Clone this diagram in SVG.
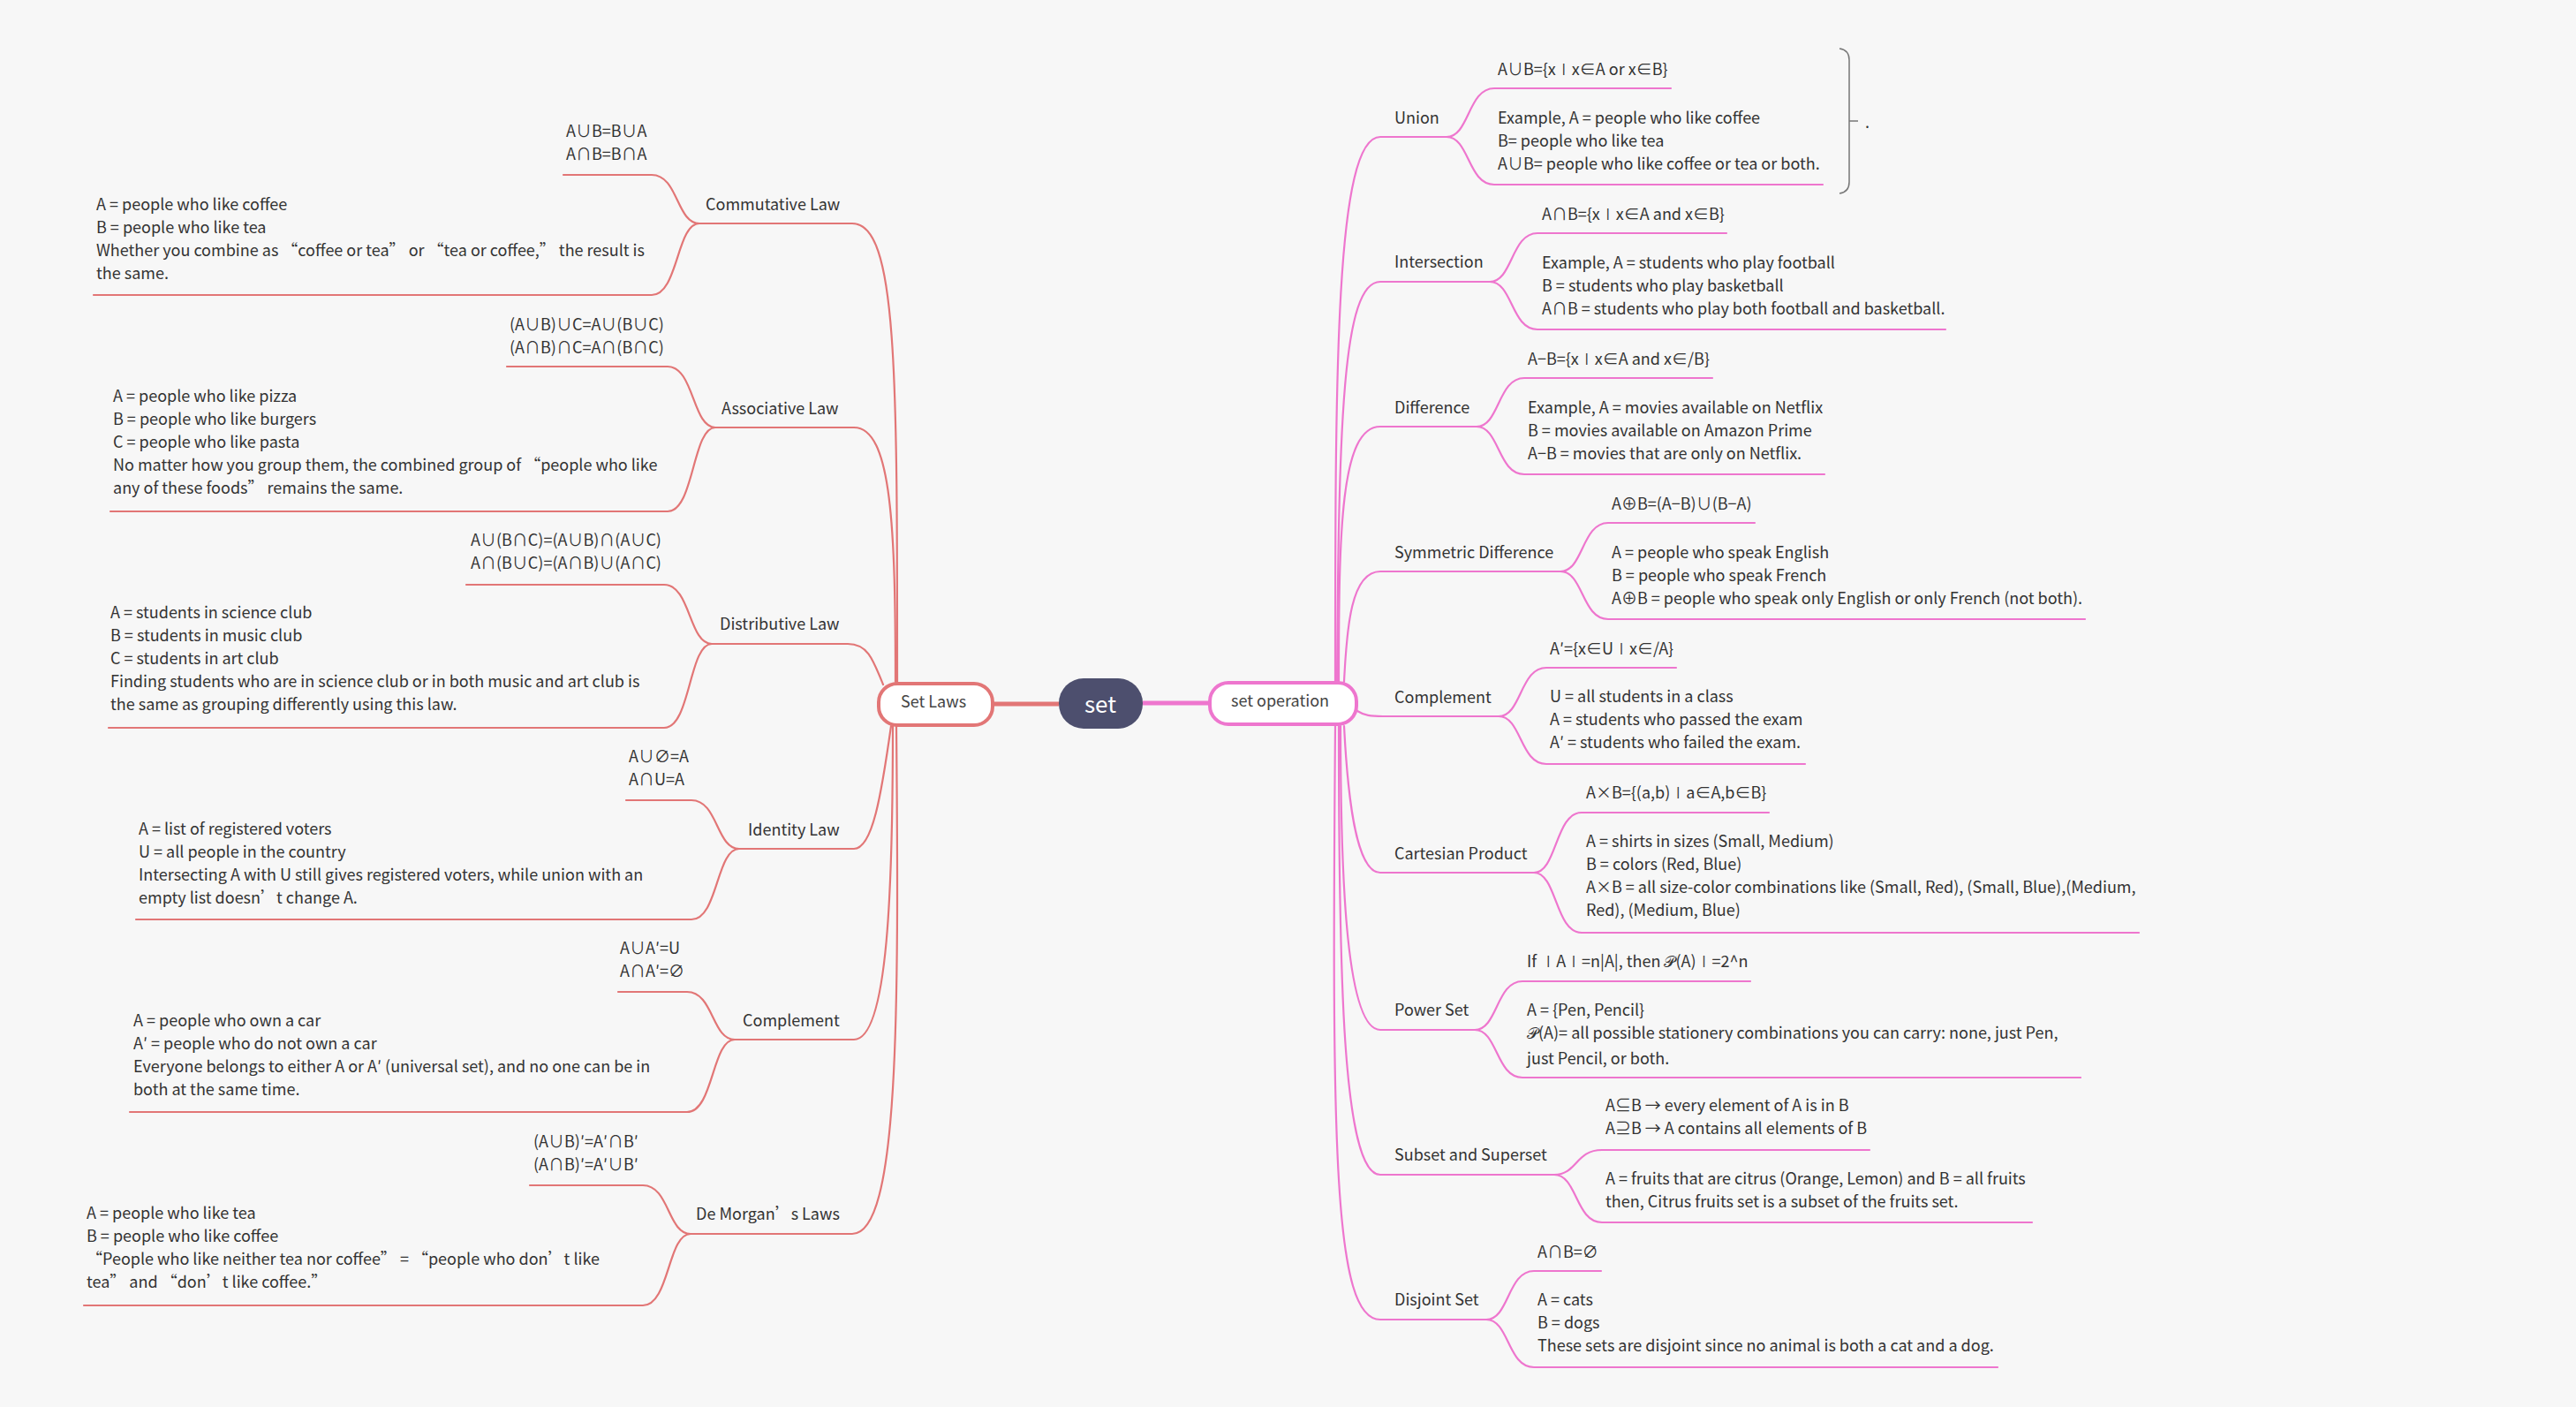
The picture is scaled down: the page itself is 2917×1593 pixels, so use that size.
<svg xmlns="http://www.w3.org/2000/svg" width="2917" height="1593" viewBox="0 0 2917 1593">
<style>
text{font-family:"Noto Sans CJK SC","Noto Sans",sans-serif;font-size:18px;font-weight:400;fill:#333}
.c{fill:none;stroke-width:2.2;stroke-linecap:round}
.r{stroke:#E27676}.p{stroke:#EE76CE}
.box{fill:#fff;stroke-width:4}
.lb{fill:#444}
</style>
<rect width="2917" height="1593" fill="#F7F7F7"/>
<g id="connectors">
<path d="M1125,797H1199" fill="none" stroke="#E27676" stroke-width="5"/>
<path d="M1294,796H1368" fill="none" stroke="#EE76CE" stroke-width="5"/>
<g class="c p">
<path d="M1512,772C1512,420 1512,155 1563,155H1638"/><path d="M1638,155C1664,155 1662,100 1692,100H1892"/><path d="M1638,155C1664,155 1662,209 1692,209H2064"/>
<path d="M1514,772C1516,480 1520,319 1563,319H1687"/><path d="M1687,319C1713,319 1711,264 1741,264H1955"/><path d="M1687,319C1713,319 1711,373 1741,373H2203"/>
<path d="M1516,772C1516,600 1518,483 1563,483H1672"/><path d="M1672,483C1698,483 1696,428 1726,428H1939"/><path d="M1672,483C1698,483 1696,537 1726,537H2066"/>
<path d="M1522,772C1525,710 1530,647 1563,647H1767"/><path d="M1767,647C1793,647 1791,592 1821,592H1987"/><path d="M1767,647C1793,647 1791,701 1821,701H2361"/>
<path d="M1537,805C1545,810 1552,811 1566,811H1697"/><path d="M1697,811C1723,811 1721,756 1751,756H1898"/><path d="M1697,811C1723,811 1721,865 1751,865H2044"/>
<path d="M1522,822C1526,900 1535,988 1563,988H1737"/><path d="M1737,988C1763,988 1761,920 1791,920H2003"/><path d="M1737,988C1763,988 1761,1056 1791,1056H2422"/>
<path d="M1518,822C1518,1000 1525,1166 1563,1166H1670"/><path d="M1670,1166C1696,1166 1694,1111 1724,1111H1982"/><path d="M1670,1166C1696,1166 1694,1220 1724,1220H2356"/>
<path d="M1516,822C1516,1100 1520,1330 1563,1330H1760"/><path d="M1760,1330C1786,1330 1784,1302 1814,1302H2117"/><path d="M1760,1330C1786,1330 1784,1384 1814,1384H2301"/>
<path d="M1512,822C1508,1300 1510,1494 1563,1494H1683"/><path d="M1683,1494C1709,1494 1707,1439 1737,1439H1813"/><path d="M1683,1494C1709,1494 1707,1548 1737,1548H2262"/>
</g>
<g class="c r">
<path d="M1016,772C1016,420 1016,253 965,253H792"/><path d="M792,253C766,253 768,198 738,198H638"/><path d="M792,253C766,253 768,334 738,334H106"/>
<path d="M1014,772C1014,600 1010,484 967,484H810"/><path d="M810,484C784,484 786,415 756,415H574"/><path d="M810,484C784,484 786,579 756,579H125"/>
<path d="M1000,775C988,745 982,729 960,729H806"/><path d="M806,729C780,729 782,662 752,662H528"/><path d="M806,729C780,729 782,824 752,824H123"/>
<path d="M1009,822C998,900 988,961 967,961H837"/><path d="M837,961C811,961 813,906 783,906H709"/><path d="M837,961C811,961 813,1041 783,1041H154"/>
<path d="M1011,822C1011,1000 1006,1177 967,1177H832"/><path d="M832,1177C806,1177 808,1123 778,1123H700"/><path d="M832,1177C806,1177 808,1259 778,1259H147"/>
<path d="M1015,822C1018,1150 1018,1397 965,1397H782"/><path d="M782,1397C756,1397 758,1342 728,1342H600"/><path d="M782,1397C756,1397 758,1478 728,1478H95"/>
</g>
<path d="M2083,55C2090,56 2094,60 2094,68V206C2094,214 2090,218 2083,219M2094,137H2104" fill="none" stroke="#777" stroke-width="1.5"/>
</g>
<g id="root"><rect x="1199" y="768" width="95" height="57" rx="28" fill="#4D4F6E"/><text x="1246" y="807" text-anchor="middle" style="font-size:26px;fill:#fff">set</text></g>
<g id="set-laws"><rect class="box" x="995" y="774" width="129" height="47" rx="21" stroke="#E27676"/><text class="lb" x="1020" y="801">Set Laws</text></g>
<g id="set-operation"><rect class="box" x="1370" y="773" width="166" height="47" rx="21" stroke="#EE76CE"/><text class="lb" x="1394" y="800">set operation</text></g>

<g id="union"><text x="1579" y="140">Union</text><text x="1696" y="85">A∪B={x∣x∈A or x∈B}</text><text y="140"><tspan x="1696">Example, A = people who like coffee</tspan><tspan x="1696" dy="26">B= people who like tea</tspan><tspan x="1696" dy="26">A∪B= people who like coffee or tea or both.</tspan></text></g>
<g id="summary"><text x="2112" y="145">.</text></g>
<g id="intersection"><text x="1579" y="303">Intersection</text><text x="1746" y="249">A∩B={x∣x∈A and x∈B}</text><text y="304"><tspan x="1746">Example, A = students who play football</tspan><tspan x="1746" dy="26">B = students who play basketball</tspan><tspan x="1746" dy="26">A∩B = students who play both football and basketball.</tspan></text></g>
<g id="difference"><text x="1579" y="468">Difference</text><text x="1730" y="413">A−B={x∣x∈A and x∈/B}</text><text y="468"><tspan x="1730">Example, A = movies available on Netflix</tspan><tspan x="1730" dy="26">B = movies available on Amazon Prime</tspan><tspan x="1730" dy="26">A−B = movies that are only on Netflix.</tspan></text></g>
<g id="symmetric"><text x="1579" y="632">Symmetric Difference</text><text x="1825" y="577">A⊕B=(A−B)∪(B−A)</text><text y="632"><tspan x="1825">A = people who speak English</tspan><tspan x="1825" dy="26">B = people who speak French</tspan><tspan x="1825" dy="26">A⊕B = people who speak only English or only French (not both).</tspan></text></g>
<g id="complement-r"><text x="1579" y="796">Complement</text><text x="1755" y="741">A′={x∈U∣x∈/A}</text><text y="795"><tspan x="1755">U = all students in a class</tspan><tspan x="1755" dy="26">A = students who passed the exam</tspan><tspan x="1755" dy="26">A′ = students who failed the exam.</tspan></text></g>
<g id="cartesian"><text x="1579" y="973">Cartesian Product</text><text x="1796" y="904">A×B={(a,b)∣a∈A,b∈B}</text><text y="959"><tspan x="1796">A = shirts in sizes (Small, Medium)</tspan><tspan x="1796" dy="26">B = colors (Red, Blue)</tspan><tspan x="1796" dy="26">A×B = all size-color combinations like (Small, Red), (Small, Blue),(Medium,</tspan><tspan x="1796" dy="26">Red), (Medium, Blue)</tspan></text></g>
<g id="power"><text x="1579" y="1150">Power Set</text><text x="1729" y="1095">If ∣A∣=n|A|, then 𝒫(A)∣=2^n</text><text y="1150"><tspan x="1729">A = {Pen, Pencil}</tspan><tspan x="1729" dy="26">𝒫(A)= all possible stationery combinations you can carry: none, just Pen,</tspan><tspan x="1729" dy="29">just Pencil, or both.</tspan></text></g>
<g id="subset"><text x="1579" y="1314">Subset and Superset</text><text y="1258"><tspan x="1818">A⊆B → every element of A is in B</tspan><tspan x="1818" dy="26">A⊇B → A contains all elements of B</tspan></text><text y="1341"><tspan x="1818">A = fruits that are citrus (Orange, Lemon)  and B = all fruits</tspan><tspan x="1818" dy="26">then, Citrus fruits set is a subset of the fruits set.</tspan></text></g>
<g id="disjoint"><text x="1579" y="1478">Disjoint Set</text><text x="1741" y="1424">A∩B=∅</text><text y="1478"><tspan x="1741">A = cats</tspan><tspan x="1741" dy="26">B = dogs</tspan><tspan x="1741" dy="26">These sets are disjoint since no animal is both a cat and a dog.</tspan></text></g>

<g id="commutative"><text x="799" y="238">Commutative Law</text><text y="155"><tspan x="641">A∪B=B∪A</tspan><tspan x="641" dy="26">A∩B=B∩A</tspan></text><text y="238"><tspan x="109">A = people who like coffee</tspan><tspan x="109" dy="26">B = people who like tea</tspan><tspan x="109" dy="26">Whether you combine as “coffee or tea” or “tea or coffee,” the result is</tspan><tspan x="109" dy="26">the same.</tspan></text></g>
<g id="associative"><text x="817" y="469">Associative Law</text><text y="374"><tspan x="577">(A∪B)∪C=A∪(B∪C)</tspan><tspan x="577" dy="26">(A∩B)∩C=A∩(B∩C)</tspan></text><text y="455"><tspan x="128">A = people who like pizza</tspan><tspan x="128" dy="26">B = people who like burgers</tspan><tspan x="128" dy="26">C = people who like pasta</tspan><tspan x="128" dy="26">No matter how you group them, the combined group of “people who like</tspan><tspan x="128" dy="26">any of these foods” remains the same.</tspan></text></g>
<g id="distributive"><text x="815" y="713">Distributive Law</text><text y="618"><tspan x="533">A∪(B∩C)=(A∪B)∩(A∪C)</tspan><tspan x="533" dy="26">A∩(B∪C)=(A∩B)∪(A∩C)</tspan></text><text y="700"><tspan x="125">A = students in science club</tspan><tspan x="125" dy="26">B = students in music club</tspan><tspan x="125" dy="26">C = students in art club</tspan><tspan x="125" dy="26">Finding students who are in science club or in both music and art club is</tspan><tspan x="125" dy="26">the same as grouping differently using this law.</tspan></text></g>
<g id="identity"><text x="847" y="946">Identity Law</text><text y="863"><tspan x="712">A∪∅=A</tspan><tspan x="712" dy="26">A∩U=A</tspan></text><text y="945"><tspan x="157">A = list of registered voters</tspan><tspan x="157" dy="26">U = all people in the country</tspan><tspan x="157" dy="26">Intersecting A with U still gives registered voters, while union with an</tspan><tspan x="157" dy="26">empty list doesn’t change A.</tspan></text></g>
<g id="complement-l"><text x="841" y="1162">Complement</text><text y="1080"><tspan x="702">A∪A′=U</tspan><tspan x="702" dy="26">A∩A′=∅</tspan></text><text y="1162"><tspan x="151">A = people who own a car</tspan><tspan x="151" dy="26">A′ = people who do not own a car</tspan><tspan x="151" dy="26">Everyone belongs to either A or A′ (universal set), and no one can be in</tspan><tspan x="151" dy="26">both at the same time.</tspan></text></g>
<g id="demorgan"><text x="788" y="1381">De Morgan’s Laws</text><text y="1299"><tspan x="604">(A∪B)′=A′∩B′</tspan><tspan x="604" dy="26">(A∩B)′=A′∪B′</tspan></text><text y="1380"><tspan x="98">A = people who like tea</tspan><tspan x="98" dy="26">B = people who like coffee</tspan><tspan x="98" dy="26">“People who like neither tea nor coffee” = “people who don’t like</tspan><tspan x="98" dy="26">tea” and “don’t like coffee.”</tspan></text></g>
</svg>
